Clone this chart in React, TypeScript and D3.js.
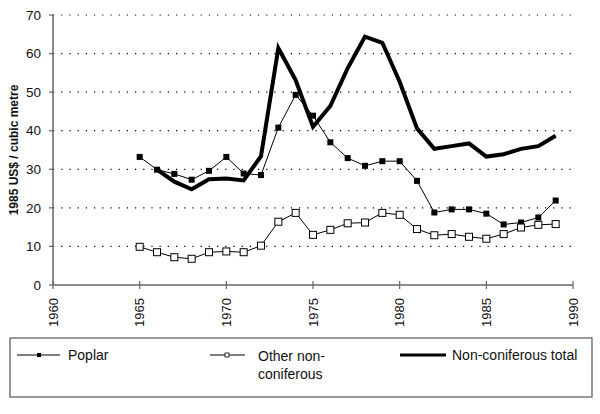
import React from "react";
import * as d3 from "d3";

const years = [1965,1966,1967,1968,1969,1970,1971,1972,1973,1974,1975,1976,1977,1978,1979,1980,1981,1982,1983,1984,1985,1986,1987,1988,1989];
const poplar = [33.2,29.9,28.8,27.3,29.6,33.2,28.9,28.5,40.8,49.3,43.9,37.0,32.9,30.9,32.1,32.1,27.0,18.8,19.6,19.6,18.5,15.7,16.2,17.5,21.9];
const otherNonConiferous = [9.9,8.5,7.2,6.8,8.5,8.7,8.5,10.2,16.4,18.7,13.0,14.3,16.0,16.2,18.7,18.2,14.5,12.9,13.2,12.5,12.0,13.2,14.9,15.6,15.8];
const totalYears = [1966,1967,1968,1969,1970,1971,1972,1973,1974,1975,1976,1977,1978,1979,1980,1981,1982,1983,1984,1985,1986,1987,1988,1989];
const nonConiferousTotal = [29.9,26.8,24.8,27.4,27.6,27.1,33.4,61.4,53.1,41.0,46.4,56.2,64.4,62.8,52.7,40.6,35.3,36.0,36.7,33.3,33.9,35.3,36.0,38.7];
const xTicks = [1960,1965,1970,1975,1980,1985,1990];
const yTicks = [0,10,20,30,40,50,60,70];

const FONT = "'Liberation Sans', Arial, sans-serif";

export default function App() {
  const x = d3.scaleLinear().domain([1960, 1990]).range([53, 573]);
  const y = d3.scaleLinear().domain([0, 70]).range([285, 15]);
  const line = d3.line<[number, number]>().x(d => x(d[0])).y(d => y(d[1]));
  const popPts: [number, number][] = years.map((yr, i) => [yr, poplar[i]]);
  const othPts: [number, number][] = years.map((yr, i) => [yr, otherNonConiferous[i]]);
  const totPts: [number, number][] = totalYears.map((yr, i) => [yr, nonConiferousTotal[i]]);

  return (
    <svg width={600} height={414} style={{ position: "absolute", left: 0, top: 0, background: "#fff" }} fontFamily={FONT}>
      <rect width={600} height={414} fill="#fff" />
      {/* grid */}
      {yTicks.filter(t => t > 0).map(t => (
        <line key={"g" + t} x1={x(1960)} x2={x(1990)} y1={y(t)} y2={y(t)} stroke="#000" strokeWidth={1.2} strokeDasharray="1.2,7" />
      ))}
      {/* axes */}
      <line x1={x(1960)} x2={x(1960)} y1={y(0)} y2={y(70)} stroke="#666" strokeWidth={1.5} />
      <line x1={x(1960)} x2={x(1990)} y1={y(0)} y2={y(0)} stroke="#666" strokeWidth={1.5} />
      {yTicks.map(t => (
        <g key={"yt" + t}>
          <line x1={x(1960) - 4} x2={x(1960)} y1={y(t)} y2={y(t)} stroke="#666" strokeWidth={1.2} />
          <text x={41} y={y(t)} dy="0.35em" textAnchor="end" fontSize={13.5} fill="#111">{t}</text>
        </g>
      ))}
      {xTicks.map(t => (
        <g key={"xt" + t}>
          <line x1={x(t)} x2={x(t)} y1={y(0) - 4} y2={y(0) + 4} stroke="#666" strokeWidth={1.2} />
          <text transform={`translate(${x(t)},298) rotate(-90)`} dy="0.35em" textAnchor="end" fontSize={13} fill="#111">{t}</text>
        </g>
      ))}
      <text transform="translate(14,150) rotate(-90)" dy="0.35em" textAnchor="middle" fontSize={12} fontWeight="bold" fill="#111">1985 US$ / cubic metre</text>

      {/* series */}
      <path d={line(totPts) || ""} fill="none" stroke="#000" strokeWidth={4} strokeLinejoin="miter" />
      <path d={line(popPts) || ""} fill="none" stroke="#000" strokeWidth={1} />
      <path d={line(othPts) || ""} fill="none" stroke="#000" strokeWidth={1} />
      {popPts.map((p, i) => (
        <rect key={"p" + i} x={x(p[0]) - 3} y={y(p[1]) - 3} width={6} height={6} fill="#000" />
      ))}
      {othPts.map((p, i) => (
        <rect key={"o" + i} x={x(p[0]) - 3.5} y={y(p[1]) - 3.5} width={7} height={7} fill="#fff" stroke="#000" strokeWidth={1} />
      ))}

      {/* legend */}
      <rect x={10} y={338} width={582} height={59} fill="none" stroke="#555" strokeWidth={1.2} />
      <line x1={17} x2={60} y1={355} y2={355} stroke="#000" strokeWidth={1} />
      <rect x={37} y={353} width={4} height={4} fill="#000" />
      <text x={68} y={355} dy="0.35em" fontSize={14} fill="#111">Poplar</text>
      <line x1={210} x2={245} y1={355} y2={355} stroke="#000" strokeWidth={1} />
      <rect x={225} y={353} width={4} height={4} fill="#fff" stroke="#000" strokeWidth={0.8} />
      <text x={258} y={356} dy="0.35em" fontSize={14} fill="#111">Other non-</text>
      <text x={258} y={374} dy="0.35em" fontSize={14} fill="#111">coniferous</text>
      <line x1={400} x2={446} y1={355} y2={355} stroke="#000" strokeWidth={3} />
      <text x={452} y={355} dy="0.35em" fontSize={14} fill="#111">Non-coniferous total</text>
    </svg>
  );
}
